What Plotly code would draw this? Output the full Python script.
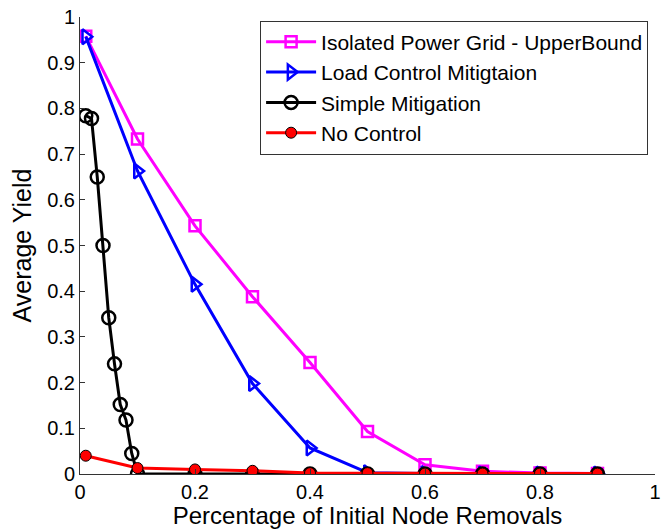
import plotly.graph_objects as go

x_main = [0.01, 0.1, 0.2, 0.3, 0.4, 0.5, 0.6, 0.7, 0.8, 0.9]
isolated = [0.958, 0.733, 0.543, 0.388, 0.244, 0.093, 0.020, 0.006, 0.002, 0.001]
load_ctrl = [0.957, 0.663, 0.415, 0.198, 0.057, 0.003, 0.001, 0.0, 0.0, 0.0]
x_simple = [0.01, 0.02, 0.03, 0.04, 0.05, 0.06, 0.07, 0.08, 0.09, 0.1, 0.2, 0.3, 0.4, 0.5, 0.6, 0.7, 0.8, 0.9]
simple = [0.784, 0.778, 0.650, 0.500, 0.342, 0.241, 0.152, 0.118, 0.045, 0.0, 0.0, 0.0, 0.0, 0.0, 0.0, 0.0, 0.0, 0.0]
no_ctrl = [0.040, 0.013, 0.010, 0.007, 0.002, 0.002, 0.001, 0.001, 0.001, 0.001]

FONT = "Liberation Sans, Arial"

fig = go.Figure()
fig.add_trace(go.Scatter(x=x_main, y=isolated, mode="lines+markers",
                         name="Isolated Power Grid - UpperBound",
                         line=dict(color="#ff00ff", width=3),
                         marker=dict(symbol="square-open", size=11, color="#ff00ff", line=dict(width=2.5))))
fig.add_trace(go.Scatter(x=x_main, y=load_ctrl, mode="lines+markers",
                         name="Load Control Mitigtaion",
                         line=dict(color="#0000ff", width=3),
                         marker=dict(symbol="triangle-right-open", size=13, color="#0000ff", line=dict(width=2.5))))
fig.add_trace(go.Scatter(x=x_simple, y=simple, mode="lines+markers",
                         name="Simple Mitigation",
                         line=dict(color="#000000", width=3),
                         marker=dict(symbol="circle-open", size=13, color="#000000", line=dict(width=2.5))))
fig.add_trace(go.Scatter(x=x_main, y=no_ctrl, mode="lines+markers",
                         name="No Control",
                         line=dict(color="#ff0000", width=3),
                         marker=dict(symbol="circle", size=11, color="#ff0000", line=dict(color="#000000", width=1))))

axis_common = dict(showline=True, linecolor="#333333", linewidth=1, ticks="inside", ticklen=5,
                   tickcolor="#333333", showgrid=False, zeroline=False, mirror=False,
                   ticklabeloverflow="allow", automargin=False,
                   tickfont=dict(family=FONT, size=20, color="#000000"))
fig.update_xaxes(range=[0, 1], dtick=0.2, tick0=0,
                 title=dict(text="Percentage of Initial Node Removals", font=dict(family=FONT, size=24, color="#000000"), standoff=9),
                 **axis_common)
fig.update_yaxes(range=[0, 1], dtick=0.1, tick0=0,
                 title=dict(text="Average Yield", font=dict(family=FONT, size=25, color="#000000"), standoff=8),
                 **axis_common)
fig.update_layout(width=662, height=529, margin=dict(l=80, r=7, t=17, b=55),
                  paper_bgcolor="white", plot_bgcolor="white",
                  font=dict(family=FONT, color="#000000"),
                  legend=dict(x=0.988, y=0.992, xanchor="right", yanchor="top",
                              bgcolor="white", bordercolor="#333333", borderwidth=1,
                              font=dict(family=FONT, size=21, color="#000000"),
                              tracegroupgap=0, itemwidth=50))
fig.write_html("out.html")
